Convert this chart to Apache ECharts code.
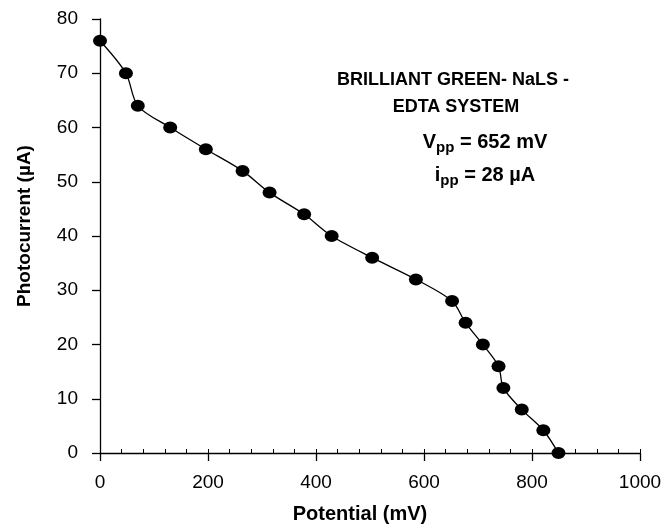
<!DOCTYPE html>
<html>
<head>
    <meta http-equiv="Content-Type" content="text/html; charset=utf-8" />
    <title>Photocurrent vs Potential</title>
    <style>
        html, body { margin: 0; padding: 0; background: #fff; }
        #main { width: 667px; height: 529px; }
    </style>
</head>
<body>
    <div id="main"></div>
    <script src="https://cdn.jsdelivr.net/npm/echarts@6/dist/echarts.min.js"></script>
    <script type="text/javascript">
        // potential (mV) and photocurrent (µA)
        var potential = [0, 48, 70, 130, 196, 264, 314, 378, 429, 504, 585, 652, 677, 709, 738, 747, 781, 821, 849];
        var current = [76, 70, 64, 60, 56, 52, 48, 44, 40, 36, 32, 28, 24, 20, 16, 12, 8, 4.2, 0];

        var points = potential.map(function (v, i) { return [v, current[i]]; });

        var font = 'Liberation Sans, Arial, sans-serif';
        var main = { fontFamily: font, fontWeight: 'bold', fontSize: 20, fill: '#000', lineHeight: 20, verticalAlign: 'top' };
        var sub = { fontFamily: font, fontWeight: 'bold', fontSize: 15, fill: '#000', lineHeight: 23, verticalAlign: 'bottom' };

        var myChart = echarts.init(document.getElementById('main'));
        var option = {
            animation: false,
            backgroundColor: '#fff',
            grid: { left: 100, right: 27, top: 19, bottom: 73, containLabel: false },
            xAxis: [{
                type: 'value',
                min: 0, max: 1000, interval: 200,
                name: 'Potential (mV)',
                nameLocation: 'middle',
                nameGap: 51,
                nameTextStyle: { fontFamily: font, fontWeight: 'bold', fontSize: 20, color: '#000', padding: [0, 20, 0, 0] },
                axisLine: { onZero: false, lineStyle: { color: '#000', width: 1.3 } },
                axisTick: { show: true, length: 8, lineStyle: { color: '#000', width: 1.3 } },
                axisLabel: {
                    fontFamily: font, fontSize: 19, color: '#000', margin: 20,
                    formatter: function (v) { return String(v); }
                },
                splitLine: { show: false }
            }, {
                // minor ticks on the inner side of the axis
                type: 'value',
                position: 'bottom',
                min: 0, max: 1000, interval: 40,
                axisLine: { show: false, onZero: false },
                axisTick: { show: true, inside: true, length: 4, lineStyle: { color: '#000', width: 1 } },
                axisLabel: { show: false },
                splitLine: { show: false }
            }],
            yAxis: {
                type: 'value',
                min: 0, max: 80, interval: 10,
                name: 'Photocurrent (µA)',
                nameLocation: 'middle',
                nameGap: 66,
                nameTextStyle: { fontFamily: font, fontWeight: 'bold', fontSize: 19, color: '#000', padding: [0, 0, 0, 20] },
                axisLine: { show: true, lineStyle: { color: '#000', width: 1.3 } },
                axisTick: { show: true, length: 8, lineStyle: { color: '#000', width: 1.3 } },
                axisLabel: { fontFamily: font, fontSize: 19, color: '#000', margin: 22 },
                splitLine: { show: false }
            },
            graphic: [
                {
                    type: 'text', x: 453, y: 80,
                    style: {
                        text: 'BRILLIANT GREEN- NaLS -',
                        align: 'center', verticalAlign: 'middle',
                        fontFamily: font, fontWeight: 'bold', fontSize: 18, fill: '#000'
                    }
                },
                {
                    type: 'text', x: 456, y: 107,
                    style: {
                        text: 'EDTA SYSTEM',
                        align: 'center', verticalAlign: 'middle',
                        fontFamily: font, fontWeight: 'bold', fontSize: 18, fill: '#000'
                    }
                },
                {
                    type: 'text', x: 485, y: 132,
                    style: {
                        text: '{m|V}{s|pp}{m| = 652 mV}',
                        align: 'center', verticalAlign: 'top',
                        rich: { m: main, s: sub }
                    }
                },
                {
                    type: 'text', x: 485, y: 165,
                    style: {
                        text: '{m|i}{s|pp}{m| = 28 µA}',
                        align: 'center', verticalAlign: 'top',
                        rich: { m: main, s: sub }
                    }
                }
            ],
            series: [{
                type: 'line',
                xAxisIndex: 0,
                data: points,
                smooth: 0.3,
                symbol: 'circle',
                symbolSize: [14, 12],
                itemStyle: { color: '#000' },
                lineStyle: { color: '#000', width: 1.3 },
                z: 3
            }]
        };
        myChart.setOption(option);
    </script>
</body>
</html>
